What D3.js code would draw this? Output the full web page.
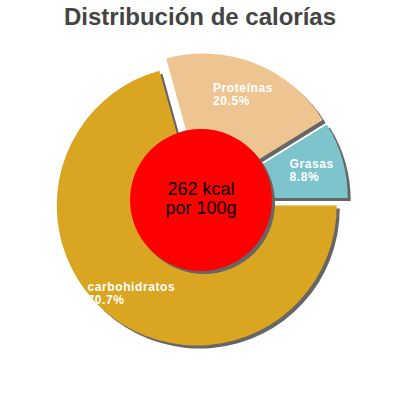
<!DOCTYPE html>
<html>
<head>
<meta charset="utf-8">
<script src="https://cdn.jsdelivr.net/npm/d3@7"></script>
<style>
  body { margin: 0; background: #fff; }
  svg { display: block; font-family: "Liberation Sans", Arial, sans-serif; }
</style>
</head>
<body>
<svg id="chart" width="400" height="400"></svg>
<script>
const title = "Distribución de calorías";
const categories = ["carbohidratos", "Proteínas", "Grasas"];
const percents = [70.7, 20.5, 8.8];
const colors = ["#daa520", "#eec591", "#7ec4cc"];
const energy = ["262 kcal", "por 100g"];

const width = 400;
const cx = 201, cy = 200;
const radius = 140;
const hole = 71;
const pull = 7;
const shadow = 3;

const svg = d3.select("#chart");

svg
  .append("text")
  .attr("x", width / 2)
  .attr("y", 25)
  .attr("text-anchor", "middle")
  .style("font-size", "24px")
  .style("font-weight", "bold")
  .style("fill", "#444")
  .text(title);

const data = categories.map((c, i) => ({ name: c, value: percents[i], color: colors[i] }));

// start at 3 o'clock, go clockwise
const pie = d3
  .pie()
  .value((d) => d.value)
  .sort(null)
  .startAngle(Math.PI / 2)
  .endAngle(Math.PI / 2 + 2 * Math.PI);

const arc = d3.arc().innerRadius(0).outerRadius(radius);
const arcs = pie(data);

const offset = (d, r) => {
  const a = (d.startAngle + d.endAngle) / 2;
  return [Math.sin(a) * r, -Math.cos(a) * r];
};

const g = svg.append("g").attr("transform", `translate(${cx},${cy})`);

g.append("g")
  .selectAll("path")
  .data(arcs)
  .enter()
  .append("path")
  .attr("d", arc)
  .attr("transform", (d) => {
    const [x, y] = offset(d, pull);
    return `translate(${x + shadow},${y + shadow})`;
  })
  .style("fill", "#666");

g.append("g")
  .selectAll("path")
  .data(arcs)
  .enter()
  .append("path")
  .attr("d", arc)
  .attr("transform", (d) => {
    const [x, y] = offset(d, pull);
    return `translate(${x},${y})`;
  })
  .style("fill", (d) => d.data.color);

// labels: two left-aligned lines, block centred near the slice
const labels = g
  .append("g")
  .selectAll("g")
  .data(arcs)
  .enter()
  .append("g")
  .style("fill", "#fff")
  .style("font-size", "12px")
  .style("font-weight", "bold")
  .style("letter-spacing", "0.6px");

labels.each(function (d) {
  const lab = d3.select(this);
  const t1 = lab.append("text").attr("y", -1).text(d.data.name);
  const t2 = lab.append("text").attr("y", 12).text(d.data.value.toFixed(1) + "%");
  const w = Math.max(t1.node().getComputedTextLength(), t2.node().getComputedTextLength());
  const [x, y] = offset(d, 108 + pull);
  lab.attr("transform", `translate(${x - w / 2},${y})`);
});

g.append("circle")
  .attr("cx", shadow)
  .attr("cy", shadow)
  .attr("r", hole)
  .style("fill", "#666");

g.append("circle").attr("r", hole).style("fill", "#f00");

g.append("text")
  .attr("text-anchor", "middle")
  .style("font-size", "18px")
  .style("fill", "#000")
  .selectAll("tspan")
  .data(energy)
  .enter()
  .append("tspan")
  .attr("x", 0)
  .attr("y", (d, i) => -5 + i * 19)
  .text((d) => d);
</script>
</body>
</html>
